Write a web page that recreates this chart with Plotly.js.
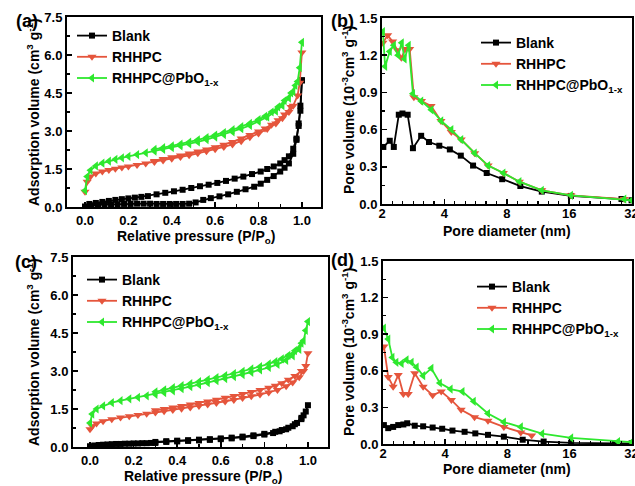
<!DOCTYPE html>
<html><head><meta charset="utf-8">
<script src="https://cdn.plot.ly/plotly-3.0.1.min.js"></script>
<style>html,body{margin:0;padding:0;background:#fff}#chart{width:635px;height:486px}</style>
</head><body><div id="chart"></div>
<script>
// ---------- (a) N2 isotherms, sample set 1 ----------
const aBlankAdsP = [0.0,0.03,0.06,0.09,0.12,0.15,0.18,0.21,0.24,0.27,0.3,0.33,0.36,0.39,0.42,0.45,0.48,0.51,0.545,0.58,0.62,0.66,0.7,0.74,0.78,0.81,0.84,0.87,0.9,0.92,0.94,0.96,0.975,0.985,0.993,1.0];
const aBlankAdsV = [0.02,0.06,0.08,0.09,0.1,0.11,0.12,0.12,0.13,0.13,0.13,0.12,0.12,0.12,0.12,0.12,0.13,0.18,0.28,0.35,0.42,0.5,0.6,0.7,0.8,0.92,1.07,1.22,1.4,1.55,1.72,2.1,2.65,3.3,4.0,5.0];
const aBlankDesP = [1.0,0.993,0.985,0.975,0.96,0.94,0.92,0.9,0.87,0.84,0.81,0.77,0.73,0.69,0.65,0.61,0.57,0.53,0.49,0.45,0.41,0.37,0.33,0.29,0.26,0.23,0.2,0.17,0.14,0.11,0.08,0.05,0.02];
const aBlankDesV = [5.0,3.8,3.2,2.7,2.3,2.0,1.85,1.72,1.6,1.5,1.4,1.3,1.2,1.12,1.03,0.95,0.88,0.82,0.75,0.68,0.62,0.56,0.5,0.43,0.4,0.37,0.34,0.31,0.28,0.24,0.2,0.16,0.12];
const aRedAdsP = [0.0,0.01,0.025,0.05,0.08,0.11,0.14,0.17,0.2,0.24,0.28,0.32,0.36,0.4,0.44,0.48,0.52,0.56,0.6,0.64,0.68,0.72,0.76,0.8,0.84,0.88,0.91,0.94,0.96,0.98,0.99,1.0];
const aRedAdsV = [0.6,1.0,1.2,1.32,1.4,1.46,1.51,1.56,1.6,1.66,1.72,1.78,1.84,1.9,1.97,2.04,2.12,2.2,2.28,2.37,2.47,2.6,2.75,2.9,3.08,3.3,3.5,3.75,4.0,4.4,4.9,6.1];
const aRedDesP = [0.95,0.92,0.89,0.86,0.83,0.8,0.76,0.72,0.68,0.64,0.6,0.56,0.52,0.48,0.44,0.4,0.36,0.32];
const aRedDesV = [3.95,3.65,3.42,3.25,3.1,2.98,2.84,2.7,2.57,2.46,2.36,2.27,2.19,2.11,2.03,1.96,1.89,1.82];
const aGrnAdsP = [0.0,0.01,0.025,0.05,0.08,0.11,0.14,0.17,0.2,0.24,0.28,0.32,0.36,0.4,0.44,0.48,0.52,0.56,0.6,0.64,0.68,0.72,0.76,0.8,0.84,0.88,0.91,0.94,0.96,0.98,0.99,1.0];
const aGrnAdsV = [0.65,1.2,1.45,1.62,1.73,1.81,1.88,1.94,2.0,2.07,2.14,2.21,2.27,2.34,2.41,2.49,2.57,2.66,2.76,2.86,2.97,3.09,3.22,3.38,3.55,3.78,4.0,4.3,4.55,4.95,5.5,6.5];
const aGrnDesP = [0.97,0.95,0.92,0.89,0.86,0.83,0.8,0.76,0.72,0.68,0.64,0.6,0.56,0.52,0.48,0.44,0.4,0.36,0.32];
const aGrnDesV = [4.8,4.5,4.2,3.95,3.75,3.58,3.45,3.3,3.17,3.05,2.94,2.84,2.74,2.65,2.56,2.48,2.41,2.34,2.27];

// ---------- (b) pore size distribution, sample set 1 ----------
const bBlankD = [2.03,2.18,2.28,2.41,2.51,2.66,2.82,3.09,3.37,3.78,4.25,4.8,5.5,6.4,7.6,9.3,11.8,16.3,28.6,32];
const bBlankV = [0.46,0.51,0.46,0.72,0.73,0.72,0.45,0.55,0.5,0.47,0.44,0.39,0.31,0.25,0.2,0.145,0.1,0.065,0.04,0.03];
const bRedD = [2.02,2.13,2.25,2.37,2.48,2.6,2.72,2.85,3.1,3.45,3.85,4.32,4.82,5.6,6.5,7.7,9.2,11.8,16.3,29.5];
const bRedV = [1.30,1.36,1.31,1.24,1.18,1.25,1.25,0.86,0.83,0.79,0.67,0.58,0.52,0.41,0.31,0.25,0.18,0.11,0.07,0.04];
const bGrnD = [2.02,2.07,2.18,2.28,2.39,2.49,2.57,2.69,2.82,3.09,3.46,3.86,4.32,4.82,5.6,6.5,7.7,9.2,11.8,16.3,29.5,32];
const bGrnV = [1.39,1.11,1.23,1.28,1.2,1.30,1.17,1.28,0.89,0.83,0.76,0.67,0.6,0.52,0.41,0.31,0.25,0.18,0.11,0.07,0.04,0.03];

// ---------- (c) N2 isotherms, sample set 2 ----------
const cBlankAdsP = [0.0,0.02,0.04,0.06,0.08,0.1,0.12,0.14,0.16,0.18,0.2,0.22,0.24,0.26,0.28,0.3,0.35,0.4,0.45,0.5,0.55,0.6,0.65,0.7,0.75,0.8,0.84,0.87,0.9,0.93,0.95,0.97,0.98,0.99,1.0];
const cBlankAdsV = [0.03,0.06,0.08,0.09,0.1,0.11,0.12,0.12,0.13,0.13,0.14,0.14,0.15,0.15,0.16,0.16,0.2,0.22,0.24,0.26,0.28,0.31,0.34,0.38,0.43,0.49,0.55,0.62,0.7,0.82,0.95,1.1,1.25,1.4,1.65];
const cBlankDesP = [0.97,0.94,0.91,0.88,0.85,0.8,0.75,0.7,0.65,0.6,0.55,0.5,0.45,0.4,0.35,0.3];
const cBlankDesV = [1.15,0.9,0.76,0.67,0.6,0.52,0.46,0.41,0.37,0.34,0.31,0.29,0.27,0.25,0.23,0.2];
const cRedAdsP = [0.0,0.01,0.03,0.06,0.1,0.14,0.18,0.22,0.26,0.3,0.34,0.38,0.42,0.46,0.5,0.54,0.58,0.62,0.66,0.7,0.74,0.78,0.82,0.86,0.9,0.93,0.96,0.98,0.99,1.0];
const cRedAdsV = [0.7,0.82,0.93,1.02,1.1,1.16,1.21,1.26,1.31,1.36,1.41,1.46,1.51,1.56,1.62,1.68,1.74,1.8,1.86,1.93,2.0,2.07,2.15,2.25,2.4,2.55,2.75,3.0,3.2,3.7];
const cRedDesP = [0.97,0.94,0.91,0.88,0.85,0.82,0.78,0.74,0.7,0.66,0.62,0.58,0.54,0.5,0.46,0.42,0.38,0.34,0.3];
const cRedDesV = [3.0,2.8,2.65,2.52,2.42,2.34,2.25,2.17,2.09,2.01,1.94,1.87,1.8,1.74,1.68,1.62,1.56,1.5,1.45];
const cGrnAdsP = [0.0,0.01,0.03,0.06,0.1,0.14,0.18,0.22,0.26,0.3,0.34,0.38,0.42,0.46,0.5,0.54,0.58,0.62,0.66,0.7,0.74,0.78,0.82,0.86,0.9,0.93,0.96,0.98,0.99,1.0];
const cGrnAdsV = [0.95,1.3,1.5,1.62,1.75,1.83,1.9,1.96,2.02,2.08,2.15,2.22,2.3,2.38,2.46,2.54,2.62,2.7,2.78,2.86,2.95,3.04,3.14,3.26,3.42,3.6,3.85,4.2,4.6,4.95];
const cGrnDesP = [0.97,0.94,0.91,0.88,0.85,0.82,0.78,0.74,0.7,0.66,0.62,0.58,0.54,0.5,0.46,0.42,0.38,0.34,0.3];
const cGrnDesV = [4.1,3.8,3.62,3.48,3.37,3.28,3.17,3.08,2.99,2.9,2.82,2.74,2.66,2.58,2.5,2.42,2.34,2.26,2.18];

// ---------- (d) pore size distribution, sample set 2 ----------
const dBlankD = [2.02,2.12,2.24,2.37,2.51,2.62,2.85,3.13,3.48,3.87,4.34,4.97,5.6,6.45,7.7,9.5,12.0,16.3,26.5,32];
const dBlankV = [0.155,0.13,0.14,0.155,0.16,0.17,0.15,0.145,0.135,0.125,0.11,0.1,0.087,0.075,0.06,0.035,0.02,0.01,0.005,0.005];
const dRedD = [2.02,2.12,2.24,2.37,2.51,2.65,2.85,3.13,3.48,3.83,4.29,4.78,5.55,6.45,7.7,9.3,10.5];
const dRedV = [0.80,0.55,0.47,0.565,0.41,0.41,0.58,0.47,0.40,0.43,0.36,0.28,0.22,0.19,0.14,0.095,0.07];
const dGrnD = [2.02,2.12,2.22,2.32,2.46,2.6,2.75,2.91,3.13,3.43,3.77,4.25,4.85,5.5,6.45,7.7,9.3,11.8,16.3,27.5,32];
const dGrnV = [0.95,0.86,0.71,0.67,0.66,0.69,0.67,0.63,0.56,0.62,0.5,0.45,0.43,0.35,0.25,0.18,0.14,0.085,0.05,0.02,0.015];

const seriesNames = ['Blank', 'RHHPC', 'RHHPC@PbO<sub>1-x</sub>'];
const poreTicks = [2, 4, 8, 16, 32];
const poreTickText = ['2', '4', '8', '16', '32'];

const BLK = '#000000', RED = '#e5553c', GRN = '#2ee82e';
const FONT = 'Liberation Sans, Arial, Helvetica, sans-serif';
const symbols = ['square', 'triangle-down', 'triangle-left'];
const colors = [BLK, RED, GRN];
const msize = [6, 8, 8];

// minor tick positions on the log2-style axis: 5 evenly spaced (in log) ticks per octave
const poreMinor = [];
for (let k = 1; k < 24; k++) { if (k % 6 !== 0) poreMinor.push(2 * Math.pow(2, k / 6)); }

function tr(x, y, i, xa, ya, leg, show) {
  return {x: x, y: y, type: 'scatter', mode: 'lines+markers', name: seriesNames[i],
    xaxis: xa, yaxis: ya, legend: leg, legendgroup: leg + i, showlegend: show,
    line: {color: colors[i], width: 1.8},
    marker: {symbol: symbols[i], size: msize[i], color: colors[i], line: {width: 0}}};
}

const data = [
  tr(aBlankAdsP, aBlankAdsV, 0, 'x', 'y', 'legend', true),
  tr(aBlankDesP, aBlankDesV, 0, 'x', 'y', 'legend', false),
  tr(aRedAdsP, aRedAdsV, 1, 'x', 'y', 'legend', true),
  tr(aRedDesP, aRedDesV, 1, 'x', 'y', 'legend', false),
  tr(aGrnAdsP, aGrnAdsV, 2, 'x', 'y', 'legend', true),
  tr(aGrnDesP, aGrnDesV, 2, 'x', 'y', 'legend', false),
  tr(bBlankD, bBlankV, 0, 'x2', 'y2', 'legend2', true),
  tr(bRedD, bRedV, 1, 'x2', 'y2', 'legend2', true),
  tr(bGrnD, bGrnV, 2, 'x2', 'y2', 'legend2', true),
  tr(cBlankAdsP, cBlankAdsV, 0, 'x3', 'y3', 'legend3', true),
  tr(cBlankDesP, cBlankDesV, 0, 'x3', 'y3', 'legend3', false),
  tr(cRedAdsP, cRedAdsV, 1, 'x3', 'y3', 'legend3', true),
  tr(cRedDesP, cRedDesV, 1, 'x3', 'y3', 'legend3', false),
  tr(cGrnAdsP, cGrnAdsV, 2, 'x3', 'y3', 'legend3', true),
  tr(cGrnDesP, cGrnDesV, 2, 'x3', 'y3', 'legend3', false),
  tr(dBlankD, dBlankV, 0, 'x4', 'y4', 'legend4', true),
  tr(dRedD, dRedV, 1, 'x4', 'y4', 'legend4', true),
  tr(dGrnD, dGrnV, 2, 'x4', 'y4', 'legend4', true)
];

const tickFont = {family: FONT, size: 13, color: '#000', weight: 'bold'};
const base = {showline: true, linewidth: 2, linecolor: '#000', mirror: true, showgrid: false,
  zeroline: false, ticks: 'inside', ticklen: 5, tickwidth: 1.5, tickcolor: '#000', tickfont: tickFont};
const minorStyle = {ticks: 'inside', ticklen: 3, tickwidth: 1.2, tickcolor: '#000', showgrid: false};

function pX(dom, rng, anchor) {
  return Object.assign({}, base, {domain: dom, range: rng, anchor: anchor, dtick: 0.2, tick0: 0,
    tickformat: '.1f', minor: Object.assign({dtick: 0.1}, minorStyle)});
}
function vY(dom, anchor) {
  return Object.assign({}, base, {domain: dom, range: [0, 7.5], anchor: anchor, dtick: 1.5, tick0: 0,
    tickformat: '.1f', minor: Object.assign({dtick: 0.75}, minorStyle)});
}
function dX(dom, anchor) {
  return Object.assign({}, base, {domain: dom, type: 'log', range: [Math.log10(2), Math.log10(32) + 0.002],
    anchor: anchor, tickmode: 'array', tickvals: poreTicks, ticktext: poreTickText, ticklabelstandoff: -4,
    ticklabeloverflow: 'allow',
    minor: Object.assign({tickmode: 'array', tickvals: poreMinor}, minorStyle)});
}
function pvY(dom, anchor) {
  return Object.assign({}, base, {domain: dom, range: [0, 1.5], anchor: anchor, dtick: 0.3, tick0: 0,
    tickformat: '.1f', minor: Object.assign({dtick: 0.15}, minorStyle)});
}

const legFont = {family: FONT, size: 14, color: '#000', weight: 'bold'};
function leg(x, y) {
  return {x: x / 635, y: 1 - y / 486, xanchor: 'left', yanchor: 'top', bgcolor: 'rgba(0,0,0,0)', font: legFont,
    tracegroupgap: 0, itemwidth: 30};
}
function lab(t, x, y, size, angle) {
  return {text: t, xref: 'paper', yref: 'paper', x: x / 635, y: 1 - y / 486, xanchor: 'center', yanchor: 'middle',
    showarrow: false, textangle: angle || 0, font: {family: FONT, size: size, color: '#000', weight: 'bold'}};
}

const tAds = 'Adsorption volume (cm<sup>3</sup> g<sup>-1</sup>)';
const tRel = 'Relative pressure (P/P<sub>o</sub>)';
const tPore = 'Pore volume (10<sup>-3</sup>cm<sup>3</sup> g<sup>-1</sup>)';
const tDia = 'Pore diameter (nm)';

const layout = {
  width: 635, height: 486, margin: {l: 0, r: 0, t: 0, b: 0},
  paper_bgcolor: '#fff', plot_bgcolor: '#fff', font: {family: FONT},
  xaxis: pX([67 / 635, 321 / 635], [-0.083, 1.088], 'y'),
  yaxis: vY([1 - 207 / 486, 1 - 17 / 486], 'x'),
  xaxis2: dX([382 / 635, 632 / 635], 'y2'),
  yaxis2: pvY([1 - 204 / 486, 1 - 18 / 486], 'x2'),
  xaxis3: pX([73 / 635, 328 / 635], [-0.078, 1.092], 'y3'),
  yaxis3: vY([1 - 447 / 486, 1 - 257 / 486], 'x3'),
  xaxis4: dX([383 / 635, 632 / 635], 'y4'),
  yaxis4: pvY([1 - 444 / 486, 1 - 261 / 486], 'x4'),
  legend: leg(72, 20),
  legend2: leg(476, 27),
  legend3: leg(82, 264),
  legend4: leg(472, 271),
  annotations: [
    lab('(a)', 27, 21, 18), lab('(b)', 342, 21, 18), lab('(c)', 26, 262, 18), lab('(d)', 343, 260, 18),
    lab(tAds, 33, 112, 14, -90), lab(tAds, 33, 352, 14, -90),
    lab(tPore, 348, 110, 14, -90), lab(tPore, 348, 352, 14, -90),
    lab(tRel, 196, 237, 14), lab(tRel, 203, 477, 14),
    lab(tDia, 507, 231, 14), lab(tDia, 507, 469, 14)
  ]
};

Plotly.newPlot('chart', data, layout, {staticPlot: true, displayModeBar: false});
</script></body></html>
